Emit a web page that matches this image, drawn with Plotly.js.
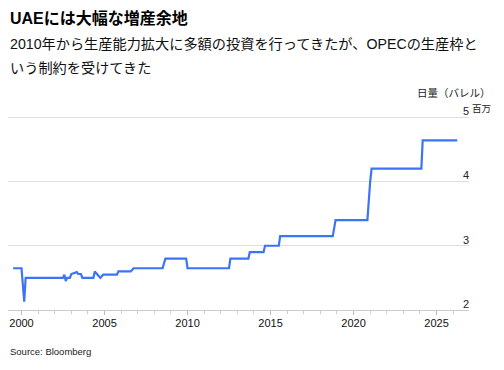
<!DOCTYPE html>
<html>
<head>
<meta charset="utf-8">
<script src="https://cdn.plot.ly/plotly-3.0.1.min.js"></script>
<style>html,body{margin:0;padding:0;background:#fff;}#chart{width:504px;height:370px;}</style>
</head>
<body>
<div id="chart"></div>
<script>
// UAE production capacity (million barrels per day)
const dates = [
  '1999-07','2000-01','2000-03','2000-04','2002-07','2002-08','2002-09','2002-10','2002-12',
  '2003-01','2003-05','2003-06','2003-08','2003-09','2004-05','2004-06','2004-08','2004-10',
  '2004-12','2005-10','2005-11','2006-08','2006-10','2008-07','2008-09','2009-12','2010-01',
  '2012-07','2012-08','2013-09','2013-10','2014-08','2014-09','2015-07','2015-08','2018-10',
  '2018-12','2020-11','2021-01','2021-02','2024-02','2024-03','2026-04'
];
const capacity = [
  2.65,2.65,2.13,2.50,2.50,2.55,2.45,2.50,2.50,
  2.56,2.59,2.56,2.56,2.50,2.50,2.60,2.55,2.50,
  2.55,2.55,2.60,2.60,2.65,2.65,2.80,2.80,2.65,
  2.65,2.80,2.80,2.90,2.90,3.00,3.00,3.15,3.15,
  3.40,3.40,4.00,4.20,4.20,4.64,4.64
];
const xTickVals = ['2000-01-01','2005-01-01','2010-01-01','2015-01-01','2020-01-01','2025-01-01'];
const xTickText = ['2000','2005','2010','2015','2020','2025'];
const yTickVals = [2,3,4,5];
const yTickText = ['2','3','4','5'];

const FONT = 'Liberation Sans, Arial, Noto Sans CJK JP, sans-serif';
const JFONT = 'Liberation Sans, Noto Sans CJK JP, sans-serif';

const trace = {
  x: dates, y: capacity, type: 'scatter', mode: 'lines',
  line: {color: '#3b74f5', width: 2.2},
  hoverinfo: 'skip'
};

const layout = {
  width: 504, height: 370,
  margin: {l: 8, r: 35, t: 98, b: 60},
  paper_bgcolor: '#fff', plot_bgcolor: '#fff',
  showlegend: false,
  font: {family: FONT, color: '#000'},
  xaxis: {
    type: 'date',
    range: ['1999-03-10', '2026-12-15'],
    tickvals: xTickVals, ticktext: xTickText,
    ticks: 'outside', ticklen: 4, tickcolor: '#bbb', tickwidth: 1,
    showline: true, linecolor: '#ccc', linewidth: 1,
    showgrid: false, zeroline: false,
    ticklabelstandoff: -1,
    tickfont: {size: 11, color: '#111', family: FONT},
    minor: {ticks: 'outside', ticklen: 3, tickcolor: '#ccc', dtick: 'M12', tick0: '2000-01-01', showgrid: false}
  },
  yaxis: {
    range: [2, 5.3],
    side: 'right',
    tickvals: yTickVals, ticktext: yTickText,
    ticklabelposition: 'inside',
    ticklabelshift: -6,
    ticklabelstandoff: -3,
    ticks: '',
    showgrid: true, gridcolor: '#dedede', gridwidth: 1,
    zeroline: false, showline: false,
    tickfont: {size: 11, color: '#222', family: FONT}
  },
  annotations: [
    {text: '<b>UAEには大幅な増産余地</b>', xref: 'paper', yref: 'paper', x: 0, y: 1.3797,
     xanchor: 'left', yanchor: 'middle', showarrow: false,
     font: {size: 16, color: '#000', family: JFONT}},
    {text: '2010年から生産能力拡大に多額の投資を行ってきたが、OPECの生産枠と', xref: 'paper', yref: 'paper', x: 0, y: 1.2547,
     xanchor: 'left', yanchor: 'middle', showarrow: false,
     font: {size: 14.2, color: '#111', family: JFONT}},
    {text: 'いう制約を受けてきた', xref: 'paper', yref: 'paper', x: 0, y: 1.1415,
     xanchor: 'left', yanchor: 'middle', showarrow: false,
     font: {size: 14.2, color: '#111', family: JFONT}},
    {text: '日量（バレル）', xref: 'paper', yref: 'paper', x: 1.052, y: 1.0236,
     xanchor: 'right', yanchor: 'middle', showarrow: false,
     font: {size: 10.5, color: '#222', family: JFONT}},
    {text: '百万', xref: 'paper', yref: 'paper', x: 1.0022, y: 0.9495,
     xanchor: 'left', yanchor: 'middle', showarrow: false,
     font: {size: 9.5, color: '#222', family: JFONT}},
    {text: 'Source: Bloomberg', xref: 'paper', yref: 'paper', x: 0, y: -0.198,
     xanchor: 'left', yanchor: 'middle', showarrow: false,
     font: {size: 9.5, color: '#222', family: FONT}}
  ]
};

Plotly.newPlot('chart', [trace], layout, {displayModeBar: false, staticPlot: true});
</script>
</body>
</html>
